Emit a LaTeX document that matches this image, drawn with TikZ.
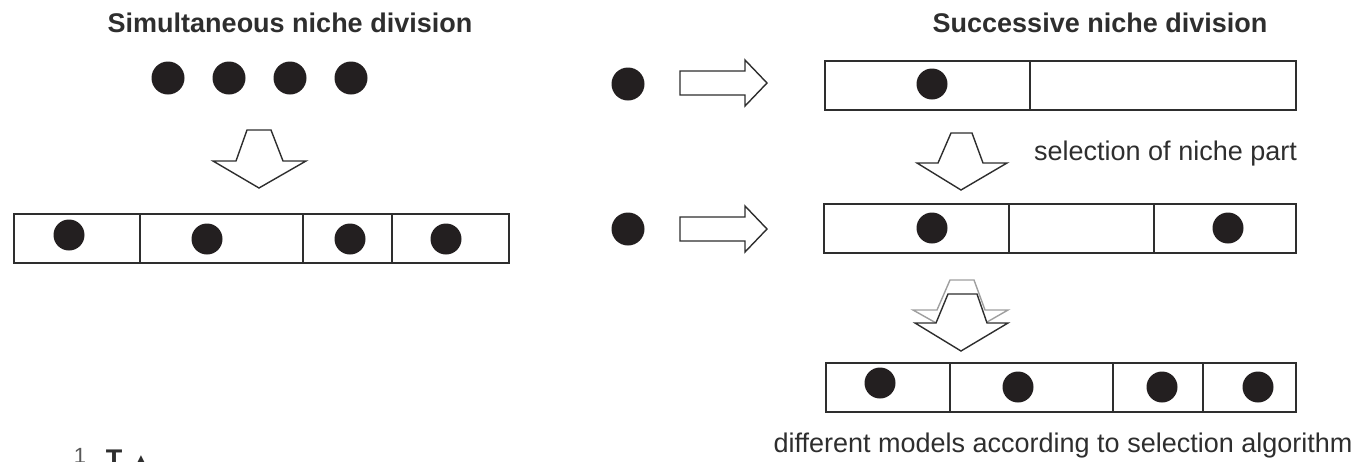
\documentclass[tikz,border=0pt]{standalone}
\usepackage{fontspec}
\setmainfont{Liberation Sans}
\newfontfamily\symfont{DejaVu Sans}
\definecolor{ink}{HTML}{2E2E2E}
\definecolor{dotc}{HTML}{231F20}
\begin{document}
\begin{tikzpicture}[x=1pt,y=-1pt,
  dot/.style={circle,fill=dotc,draw=none,minimum size=31pt,inner sep=0pt},
  bigdot/.style={dot,minimum size=33pt},
  cell/.style={draw=ink,line width=1.4pt},
  blk/.style={draw=ink,fill=white,line width=1.4pt,line join=miter},
  ghost/.style={draw=gray!75,fill=white,line width=1.4pt,line join=miter},
  lbl/.style={inner sep=0pt,font=\fontsize{27}{30}\selectfont,text=ink},
  ttl/.style={inner sep=0pt,font=\fontsize{27}{30}\selectfont\bfseries,text=ink}]
\useasboundingbox (0,0) rectangle (1365,461);
\clip (0,0) rectangle (1365,461);

% titles
\node[ttl,anchor=base] (t1) at (290,32) {Simultaneous niche division};
\node[ttl,anchor=base] (t2) at (1100,32) {Successive niche division};

% left: four dots
\node[bigdot] (a1) at (168,78) {};
\node[bigdot] (a2) at (229,78) {};
\node[bigdot] (a3) at (290,78) {};
\node[bigdot] (a4) at (351,78) {};

% left down arrow
\draw[blk,shift={(259,188)}] (-12,-58) -- (12,-58) -- (24,-27) -- (47,-27) -- (0,0) -- (-46,-27) -- (-23,-27) -- cycle;

% left row
\draw[cell] (14,214) rectangle (509,263);
\draw[cell] (140,214) -- (140,263);
\draw[cell] (303,214) -- (303,263);
\draw[cell] (392,214) -- (392,263);
\node[dot] (b1) at (69,235) {};
\node[dot] (b2) at (207,239) {};
\node[dot] (b3) at (350,239) {};
\node[dot] (b4) at (446,239) {};

% right: row 1
\node[bigdot] (c0) at (628,84) {};
\draw[blk,shift={(767,83)}] (-87,-12) -- (-22,-12) -- (-22,-23) -- (0,0) -- (-22,23) -- (-22,12) -- (-87,12) -- cycle;
\draw[cell] (825,61) rectangle (1296,110);
\draw[cell] (1030,61) -- (1030,110);
\node[dot] (c1) at (932,84) {};

% middle arrow + label
\draw[blk,shift={(961,190)}] (-10,-57) -- (11,-57) -- (22,-27) -- (46,-27) -- (0,0) -- (-44,-27) -- (-23,-27) -- cycle;
\node[lbl,anchor=base west] (sel) at (1034,160) {selection of niche part};

% right: row 2
\node[bigdot] (d0) at (628,229) {};
\draw[blk,shift={(767,229)}] (-87,-12) -- (-22,-12) -- (-22,-23) -- (0,0) -- (-22,23) -- (-22,12) -- (-87,12) -- cycle;
\draw[cell] (824,204) rectangle (1296,253);
\draw[cell] (1009,204) -- (1009,253);
\draw[cell] (1154,204) -- (1154,253);
\node[dot] (d1) at (932,228) {};
\node[dot] (d2) at (1228,228) {};

% double arrow
\draw[ghost,shift={(961,337)}] (-11,-57) -- (13,-57) -- (24,-27) -- (47,-27) -- (0,0) -- (-48,-27) -- (-24,-27) -- cycle;
\draw[blk,shift={(961,351)}] (-13,-57) -- (16,-57) -- (26,-28) -- (47,-28) -- (0,0) -- (-46,-28) -- (-25,-28) -- cycle;

% right: row 3
\draw[cell] (826,363) rectangle (1296,412);
\draw[cell] (950,363) -- (950,412);
\draw[cell] (1113,363) -- (1113,412);
\draw[cell] (1203,363) -- (1203,412);
\node[dot] (e1) at (880,383) {};
\node[dot] (e2) at (1018,387) {};
\node[dot] (e3) at (1162,387) {};
\node[dot] (e4) at (1258,387) {};
\node[lbl,anchor=base] (diff) at (1063,452) {different models according to selection algorithm};

% cut-off glyphs at bottom left (cut by the page edge, as in the reference)
\node[inner sep=0pt,anchor=base,font=\fontsize{22}{24}\selectfont,text=ink!80] (g1) at (80,463) {1};
\node[inner sep=0pt,anchor=base,font=\fontsize{27}{30}\selectfont\bfseries,text=ink] (g2) at (114,468) {T};
\node[inner sep=0pt,anchor=base,font=\symfont\fontsize{20}{24}\selectfont,text=ink] (g3) at (141,468) {▲};
\end{tikzpicture}
\end{document}
